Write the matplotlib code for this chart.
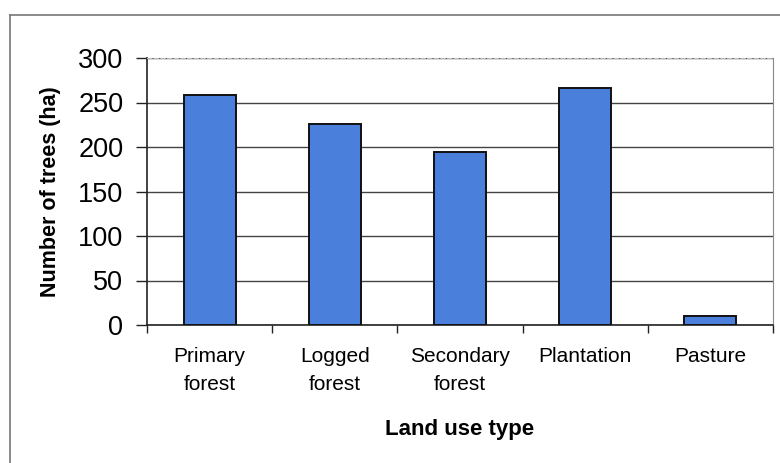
import matplotlib
matplotlib.use("Agg")
import matplotlib.pyplot as plt
from matplotlib.lines import Line2D
import numpy as np

categories = ["Primary\nforest", "Logged\nforest", "Secondary\nforest", "Plantation", "Pasture"]
trees_per_ha = [258, 226, 194, 266, 10]
y_ticks = [0, 50, 100, 150, 200, 250, 300]

plt.rcParams["font.family"] = ["Liberation Sans", "DejaVu Sans"]

fig = plt.figure(figsize=(7.8, 4.63), dpi=100)
ax = fig.add_axes([147 / 780, 1 - 325 / 463, (773 - 147) / 780, (325 - 58) / 463])

x = np.arange(len(categories))
ax.bar(x, trees_per_ha, width=0.415, color="#4a7fdc", edgecolor="#111111",
       linewidth=1.4, zorder=3)

ax.set_xlim(-0.5, len(categories) - 0.5)
ax.set_ylim(0, 300)
ax.set_yticks(y_ticks)
ax.set_yticklabels([str(v) for v in y_ticks], fontsize=19.5)
ax.yaxis.grid(True, color="#444444", linewidth=1.0, zorder=0)
ax.tick_params(axis="y", direction="out", length=8, width=1, pad=9, color="#222222")

# category labels sit between the boundary ticks
ax.set_xticks(x)
ax.set_xticklabels(categories, fontsize=15, linespacing=1.6)
ax.tick_params(axis="x", length=0, pad=16)
ax.set_xticks(np.arange(-0.5, len(categories)), minor=True)
ax.tick_params(axis="x", which="minor", direction="out", length=6, width=1, color="#222222")

for side in ("left", "bottom"):
    ax.spines[side].set_color("#222222")
    ax.spines[side].set_linewidth(1.2)
ax.spines["right"].set_color("#888888")
ax.spines["top"].set_color("#bbbbbb")
ax.spines["top"].set_linestyle((0, (4, 2)))

ax.set_xlabel("Land use type", fontsize=16, fontweight="bold", labelpad=18)
ax.set_ylabel("Number of trees (ha)", fontsize=15.5, fontweight="bold", labelpad=12)

# outer chart frame
fig.add_artist(Line2D([10 / 780, 10 / 780], [0, 1 - 15 / 463], color="#777777", lw=1.2,
                      transform=fig.transFigure))
fig.add_artist(Line2D([10 / 780, 1], [1 - 15 / 463, 1 - 15 / 463], color="#777777", lw=1.2,
                      transform=fig.transFigure))

fig.savefig("out.png", dpi=100)
